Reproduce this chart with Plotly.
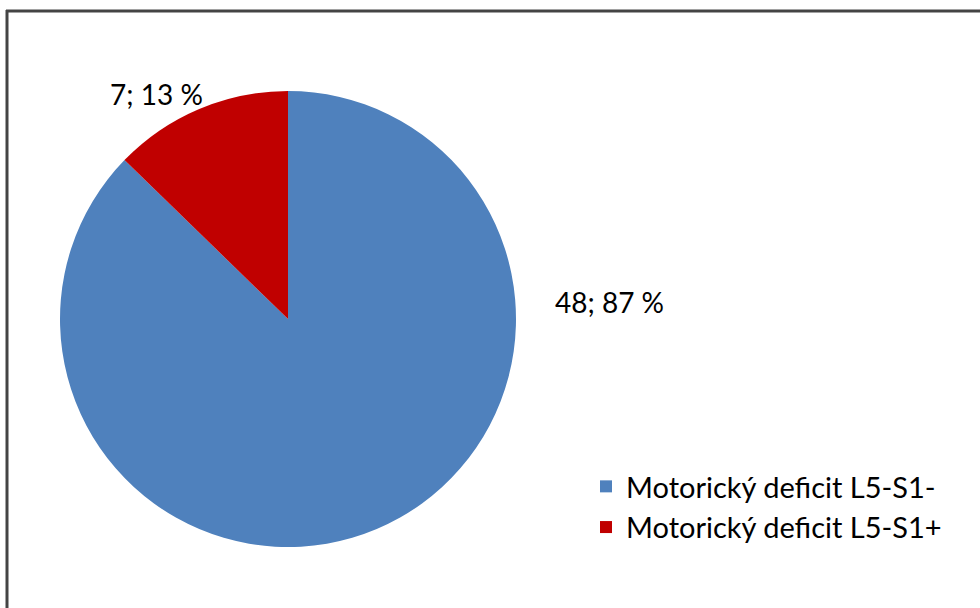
import plotly.graph_objects as go

labels = ["Motorický deficit L5-S1-", "Motorický deficit L5-S1+"]
values = [48, 7]
colors = ["#4F81BD", "#C00000"]

total = sum(values)
texts = [f"{v}; {round(100 * v / total)} %" for v in values]

W, H = 980, 608
FONT = "Lato"
FS = 28

fig = go.Figure()
fig.add_trace(go.Pie(
    labels=labels, values=values, sort=False, direction="clockwise", rotation=0,
    marker=dict(colors=colors, line=dict(width=0)),
    textinfo="none", hoverinfo="label+value+percent",
    domain=dict(x=[60 / W, 516 / W], y=[(H - 547) / H, (H - 91) / H]),
))

# data labels
label_pos = [(553, 302), (108, 94)]
for t, (px, py) in zip(texts, label_pos):
    fig.add_annotation(x=px / W, y=1 - py / H, xref="paper", yref="paper",
                       text=t, showarrow=False, xanchor="left", yanchor="middle",
                       font=dict(family=FONT, size=FS, color="#000000"))

# frame
fig.add_shape(type="line", xref="paper", yref="paper", x0=6 / W, x1=1, y0=1 - 11 / H, y1=1 - 11 / H,
              line=dict(color="#444444", width=3))
fig.add_shape(type="line", xref="paper", yref="paper", x0=7 / W, x1=7 / W, y0=0, y1=1 - 10 / H,
              line=dict(color="#444444", width=3))

fig.update_layout(
    width=W, height=H, margin=dict(l=0, r=0, t=0, b=0),
    paper_bgcolor="white", plot_bgcolor="white",
    font=dict(family=FONT, size=FS, color="#000000"),
    legend=dict(x=586 / W, y=1 - 461 / H, xanchor="left", yanchor="top",
                font=dict(family=FONT, size=29), itemsizing="constant",
                tracegroupgap=0, bgcolor="rgba(0,0,0,0)"),
    showlegend=True,
)

fig.write_html("out.html", config={"displayModeBar": False},
               post_script="document.body.style.margin='0';document.body.style.overflow='hidden';")
